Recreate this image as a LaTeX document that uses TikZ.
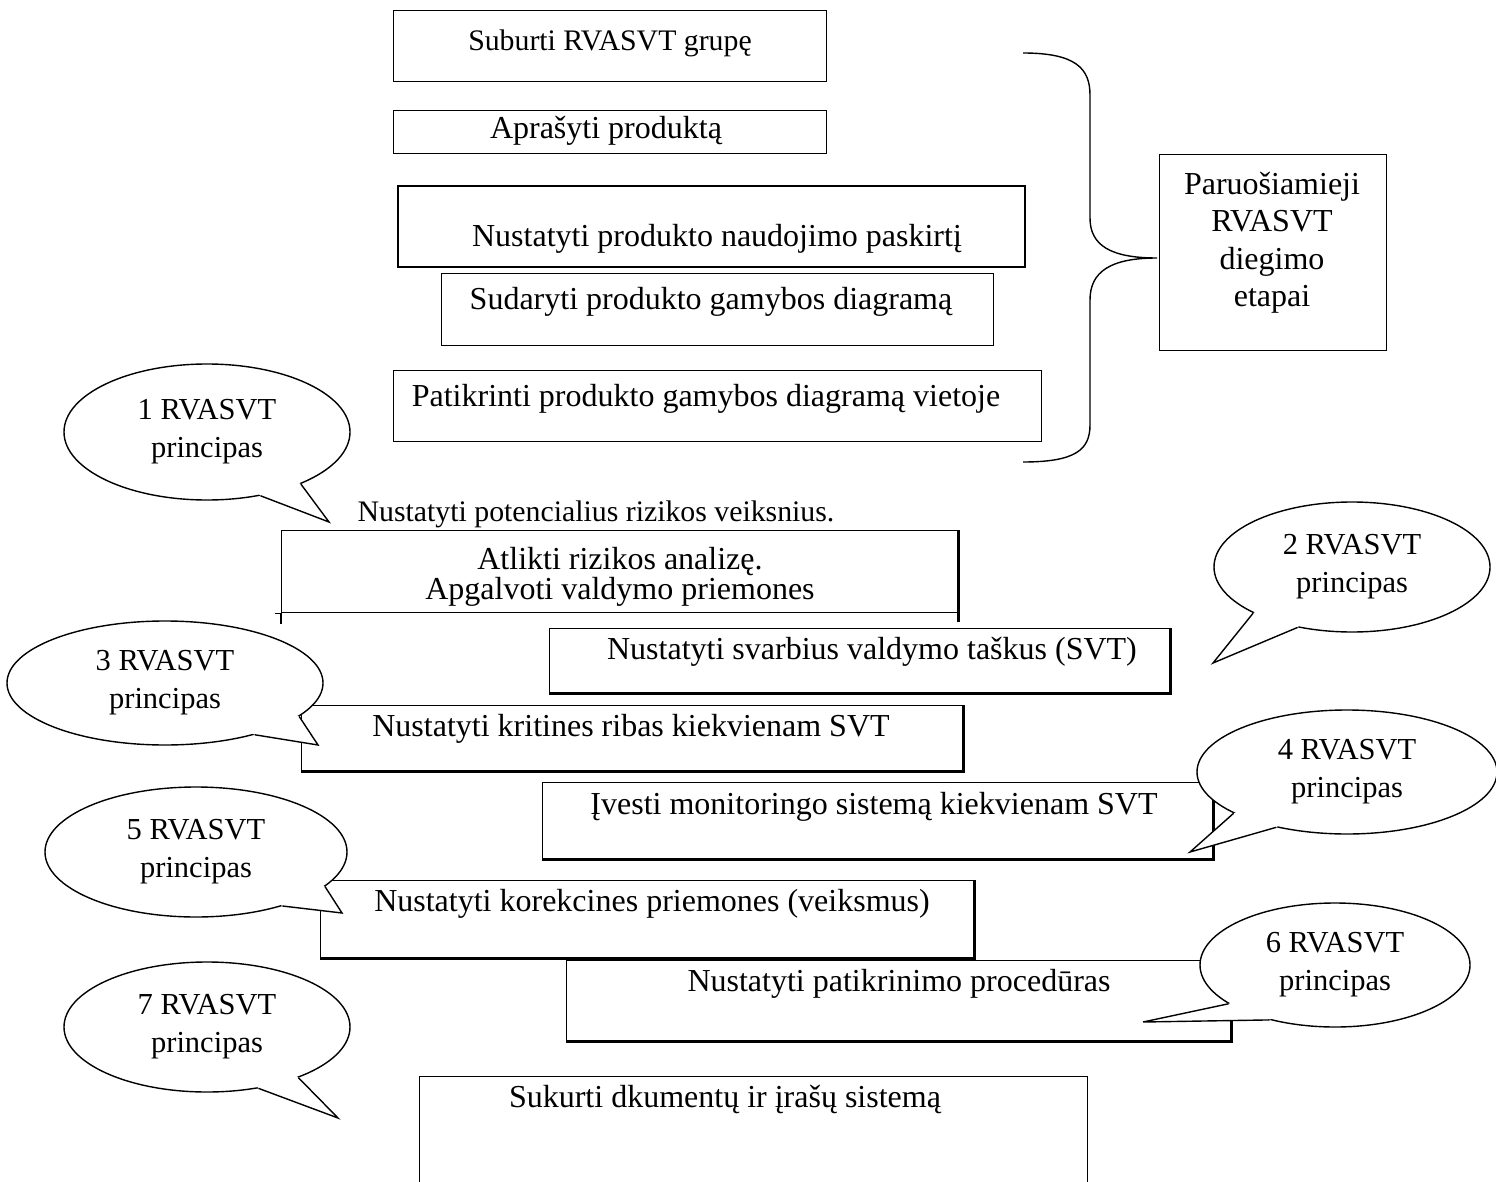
\documentclass[tikz,border=0pt]{standalone}
\usepackage{fontspec}
\setmainfont{Liberation Serif}
\usetikzlibrary{shapes.geometric,calc}
\newcommand\bubtail[4]{%
  \fill[white] (#1.#2) -- (#3) -- (#1.#4) -- ($(#1.center)!0.8!(#1.#4)$) -- ($(#1.center)!0.8!(#1.#2)$) -- cycle;
  \draw[thinline, line join=miter] (#1.#2) -- (#3) -- (#1.#4);}
\begin{document}
\begin{tikzpicture}[x=1pt,y=-1pt,
  every node/.style={font=\fontsize{32}{37.5}\selectfont},
  thinline/.style={line width=1.4pt},
  box/.style={draw, thinline, fill=white, inner sep=0pt, anchor=north west},
  lbl/.style={inner sep=0pt, anchor=base, align=center},
  smalllbl/.style={lbl, font=\fontsize{29.8}{36}\selectfont},
  bubble/.style={ellipse, draw, thinline, fill=white, inner sep=0pt, align=center, font=\fontsize{30.5}{38}\selectfont},
  heavy/.style={line width=3pt},
]
\clip (0,0) rectangle (1496,1182);
\fill[white] (0,0) rectangle (1496,1182);

% ---- preparatory steps ----
\node[box, minimum width=433pt, minimum height=71pt] (t1) at (393,10) {};
\node[smalllbl] (l1) at (610,51) {Suburti RVASVT grupę};
\node[box, minimum width=433pt, minimum height=43pt] (t2) at (393,110) {};
\node[lbl] (l2) at (606,139) {Aprašyti produktą};
\node[box, line width=2pt, minimum width=627pt, minimum height=81pt] (t3) at (397,185) {};
\node[lbl] (l3) at (717,247) {Nustatyti produkto naudojimo paskirtį};
\node[box, minimum width=552pt, minimum height=72pt] (t4) at (441,273) {};
\node[lbl] (l4) at (711,309) {Sudaryti produkto gamybos diagramą};
\node[box, minimum width=648pt, minimum height=71pt] (t5) at (393,370) {};
\node[lbl] (l5) at (706,406) {Patikrinti produkto gamybos diagramą vietoje};

\node[box, minimum width=227pt, minimum height=196pt] (p) at (1159,154) {};
\node[inner sep=0pt, align=center] (pl) at (1272,243) {Paruošiamieji\\RVASVT\\diegimo\\etapai};

\coordinate (bt) at (1023,53);
\coordinate (bb) at (1023,462);
\coordinate (btip) at (1157,258);
\draw[thinline] (bt) .. controls (1075,53) and (1090,68) .. (1090,95) -- (1090,218)
  .. controls (1090,245) and (1110,258) .. (btip)
  .. controls (1110,258) and (1090,272) .. (1090,300) -- (1090,425)
  .. controls (1090,450) and (1075,462) .. (bb);

% ---- HACCP principles ----
\node[smalllbl] (pot) at (596,521) {Nustatyti potencialius rizikos veiksnius.};

\node[box, minimum width=676pt, minimum height=82pt] (ba) at (281,530) {};
\draw[thinline] (ba.south west) -- ++(0,11);
\draw[thinline] (ba.south west) -- ++(-6,0);
\draw[line width=2.5pt] (ba.north east) -- ++(0,92);
\node[inner sep=0pt, align=center, font=\fontsize{32}{30}\selectfont] (la) at (620,577) {Atlikti rizikos analizę.\\Apgalvoti valdymo priemones};

\node[box, minimum width=620pt, minimum height=64pt] (bbx) at (549,628) {};
\draw[heavy] (bbx.north east) -- (bbx.south east) -- (bbx.south west);
\node[lbl] (lb) at (872,659) {Nustatyti svarbius valdymo taškus (SVT)};

\node[box, minimum width=661pt, minimum height=65pt] (bc) at (301,705) {};
\draw[heavy] (bc.north east) -- (bc.south east) -- (bc.south west);
\node[lbl] (lc) at (631,736) {Nustatyti kritines ribas kiekvienam SVT};

\node[box, minimum width=670pt, minimum height=76pt] (bd) at (542,782) {};
\draw[heavy] (bd.north east) -- (bd.south east) -- (bd.south west);
\node[lbl] (ld) at (874,814) {Įvesti monitoringo sistemą kiekvienam SVT};

\node[box, minimum width=653pt, minimum height=77pt] (be) at (320,880) {};
\draw[heavy] (be.north east) -- (be.south east) -- (be.south west);
\node[lbl] (le) at (652,911) {Nustatyti korekcines priemones (veiksmus)};

\node[box, minimum width=664pt, minimum height=80pt] (bf) at (566,960) {};
\draw[heavy] (bf.north east) -- (bf.south east) -- (bf.south west);
\node[lbl] (lf) at (899,991) {Nustatyti patikrinimo procedūras};

\node[box, minimum width=668pt, minimum height=130pt] (bg) at (419,1076) {};
\node[lbl] (lg) at (725,1107) {Sukurti dkumentų ir įrašų sistemą};

% ---- bubbles ----
\node[bubble, minimum width=286pt, minimum height=136pt] (b1) at (207,432) {1 RVASVT\\principas};
\coordinate (tp1) at (329,522);
\bubtail{b1}{-29}{tp1}{-50}

\node[bubble, minimum width=276pt, minimum height=130pt] (b2) at (1352,567) {2 RVASVT\\principas};
\coordinate (tp2) at (1213,663);
\bubtail{b2}{-155}{tp2}{-132}

\node[bubble, minimum width=316pt, minimum height=124pt] (b3) at (165,683) {3 RVASVT\\principas};
\coordinate (tp3) at (318,745);
\bubtail{b3}{-14}{tp3}{-30}

\node[bubble, minimum width=300pt, minimum height=124pt] (b4) at (1347,772) {4 RVASVT\\principas};
\coordinate (tp4) at (1190,852);
\bubtail{b4}{-160}{tp4}{-142}

\node[bubble, minimum width=302pt, minimum height=130pt] (b5) at (196,852) {5 RVASVT\\principas};
\coordinate (tp5) at (342,913);
\bubtail{b5}{-15}{tp5}{-32}

\node[bubble, minimum width=270pt, minimum height=124pt] (b6) at (1335,965) {6 RVASVT\\principas};
\coordinate (tp6) at (1143,1022);
\bubtail{b6}{-160}{tp6}{-140}

\node[bubble, minimum width=286pt, minimum height=130pt] (b7) at (207,1027) {7 RVASVT\\principas};
\coordinate (tp7) at (338,1118);
\bubtail{b7}{-29}{tp7}{-50}
\end{tikzpicture}
\end{document}
